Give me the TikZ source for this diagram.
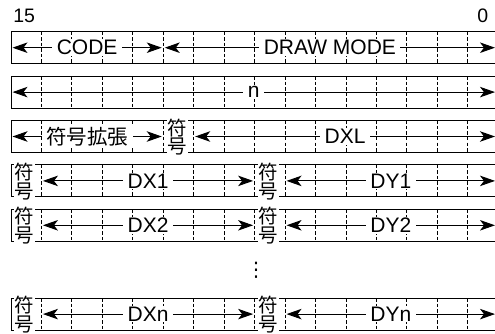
\documentclass[tikz,border=0pt]{standalone}
\usepackage{fontspec}
\setmainfont{Liberation Sans}
\newfontfamily\cjk{Noto Sans CJK JP}
\newfontfamily\symfont{DejaVu Sans}
\usetikzlibrary{arrows.meta}
\tikzset{
  boxline/.style={line width=1pt},
  bitsep/.style={line width=0.9pt, dash pattern=on 3.5pt off 2pt},
  dimarrow/.style={line width=1pt,
    {Stealth[length=15pt,width=10.5pt,inset=4pt]}-{Stealth[length=15pt,width=10.5pt,inset=4pt]},
    shorten <=1.5pt, shorten >=1.5pt},
  lbl/.style={fill=white, inner xsep=4.5pt, inner ysep=1pt, font=\fontsize{21}{24}\selectfont},
  cjklbl/.style={lbl, font=\cjk\fontsize{20.5}{24}\selectfont},
  signbit/.style={fill=white, inner sep=0pt, minimum width=21pt, minimum height=38pt,
    align=center, font=\cjk\fontsize{19.5}{18.8}\selectfont},
  bitnum/.style={anchor=base, inner sep=0pt, font=\fontsize{19.5}{22}\selectfont},
  dotsnode/.style={inner sep=0pt, font=\symfont\fontsize{20}{20}\selectfont},
}
\newcommand\wordframe[1]{%
  \draw[boxline] (498.5,#1) -- (11,#1) -- (11,#1+32) -- (498.5,#1+32);
  \foreach \k in {1,...,15} \draw[bitsep] (11+30.45*\k,#1) -- ++(0,32);
}
\begin{document}
\begin{tikzpicture}[x=1pt, y=-1pt]
\useasboundingbox (0,0) rectangle (495,334);

\node[bitnum] (b15) at (24.2,22.5) {15};
\node[bitnum] (b0) at (482.8,22.5) {0};

\wordframe{31.7}
\wordframe{76.1}
\wordframe{120.5}
\wordframe{164.9}
\wordframe{209.3}
\wordframe{298.1}

% row 1
\coordinate (c1a) at (11,47.7);
\coordinate (c1b) at (163.25,47.7);
\coordinate (c1c) at (496.5,47.7);
\draw[dimarrow] (c1a) -- node[lbl] (code) {CODE} (c1b);
\draw[dimarrow] (c1b) -- node[lbl] (mode) {DRAW MODE} (c1c);

% row 2
\coordinate (c2a) at (11,92.1);
\coordinate (c2c) at (496.5,92.1);
\draw[dimarrow] (c2a) -- node[lbl] (cnt) {n} (c2c);

% row 3
\coordinate (c3a) at (11,136.5);
\coordinate (c3b) at (163.25,136.5);
\coordinate (c3d) at (193.7,136.5);
\coordinate (c3c) at (496.5,136.5);
\draw[dimarrow] (c3a) -- node[cjklbl] (ext) {符号拡張} (c3b);
\draw[dimarrow] (c3d) -- node[lbl] (dxl) {DXL} (c3c);
\node[signbit] (s3) at (177,137) {符\\号};

% row 4
\coordinate (c4a) at (41.45,180.9);
\coordinate (c4b) at (254.6,180.9);
\coordinate (c4d) at (285.05,180.9);
\coordinate (c4c) at (496.5,180.9);
\draw[dimarrow] (c4a) -- node[lbl] (dx1) {DX1} (c4b);
\draw[dimarrow] (c4d) -- node[lbl] (dy1) {DY1} (c4c);
\node[signbit] (s4a) at (24.2,181.4) {符\\号};
\node[signbit] (s4b) at (268,181.4) {符\\号};

% row 5
\coordinate (c5a) at (41.45,225.3);
\coordinate (c5b) at (254.6,225.3);
\coordinate (c5d) at (285.05,225.3);
\coordinate (c5c) at (496.5,225.3);
\draw[dimarrow] (c5a) -- node[lbl] (dx2) {DX2} (c5b);
\draw[dimarrow] (c5d) -- node[lbl] (dy2) {DY2} (c5c);
\node[signbit] (s5a) at (24.2,225.8) {符\\号};
\node[signbit] (s5b) at (268,225.8) {符\\号};

% dots
\node[dotsnode] (vd) at (256,270.3) {⋮};

% row n
\coordinate (cna) at (41.45,314.1);
\coordinate (cnb) at (254.6,314.1);
\coordinate (cnd) at (285.05,314.1);
\coordinate (cnc) at (496.5,314.1);
\draw[dimarrow] (cna) -- node[lbl] (dxn) {DXn} (cnb);
\draw[dimarrow] (cnd) -- node[lbl] (dyn) {DYn} (cnc);
\node[signbit] (sna) at (24.2,314.6) {符\\号};
\node[signbit] (snb) at (268,314.6) {符\\号};
\end{tikzpicture}
\end{document}
